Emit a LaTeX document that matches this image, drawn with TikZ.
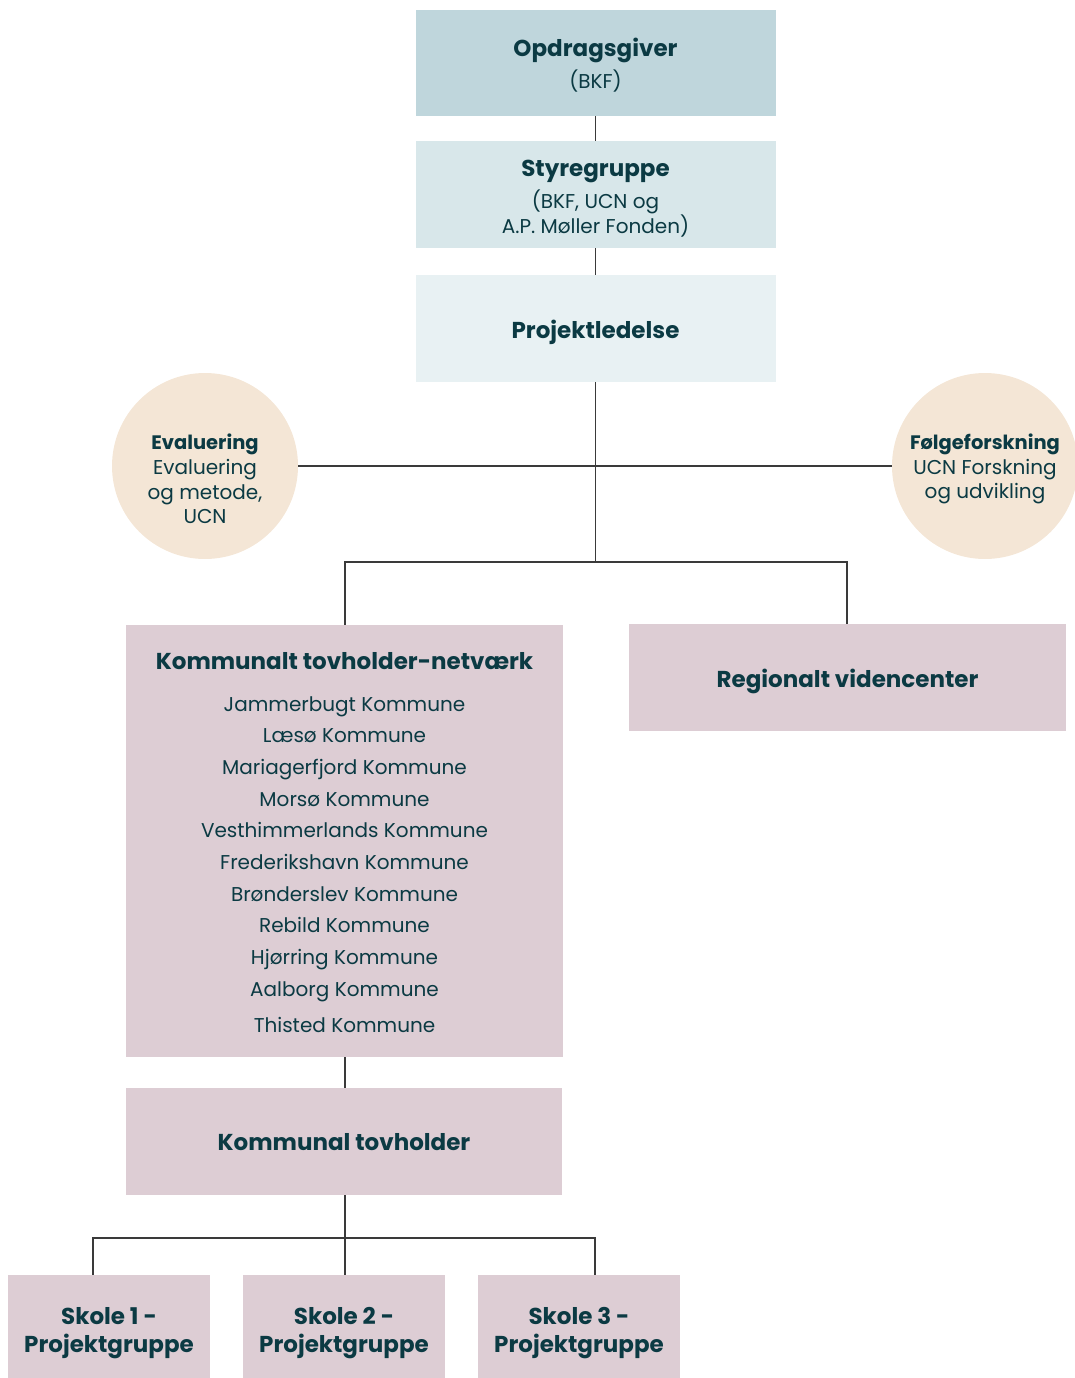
\documentclass[tikz,border=0pt]{standalone}
\usepackage{fontspec}
\setmainfont{Poppins}
\definecolor{txt}{HTML}{0B3A43}
\definecolor{c1}{HTML}{BFD6DC}
\definecolor{c2}{HTML}{D8E7EA}
\definecolor{c3}{HTML}{E8F1F3}
\definecolor{cc}{HTML}{F4E6D6}
\definecolor{cp}{HTML}{DDCDD4}
\definecolor{ln}{HTML}{3A3A3A}
\newcommand{\hdfont}{\fontsize{23}{28}\selectfont\bfseries}
\begin{document}
\begin{tikzpicture}[x=1pt,y=-1pt,
  box/.style={rectangle,inner sep=0pt},
  tx/.style={inner sep=0pt,align=center,text=txt,font=\fontsize{20}{25}\selectfont},
  circ/.style={circle,fill=cc,minimum size=186pt,inner sep=0pt},
  ctext/.style={inner sep=0pt,align=center,text=txt,font=\fontsize{20}{24.7}\selectfont},
  lst/.style={inner sep=0pt,anchor=base,text=txt,font=\fontsize{20}{25}\selectfont},
  conn/.style={draw=ln,line width=1.1pt}]
\useasboundingbox (0,0) rectangle (1075,1378);
% boxes
\node[box,fill=c1,minimum width=360pt,minimum height=106pt] (opd) at (595.5,63) {};
\node[tx,font=\fontsize{20}{32}\selectfont,yshift=-2pt] (opdt) at (opd) {{\hdfont Opdragsgiver}\\(BKF)};
\node[box,fill=c2,minimum width=360pt,minimum height=107pt] (sty) at (595.5,194.5) {};
\node[tx,yshift=-4.5pt] (styt) at (sty) {{\hdfont Styregruppe}\\[6pt](BKF, UCN og\\A.P. Møller Fonden)};
\node[box,fill=c3,minimum width=360pt,minimum height=107pt] (proj) at (595.5,328.5) {};
\node[tx,font=\hdfont,yshift=-4pt] (projt) at (proj) {Projektledelse};
% circles
\node[circ] (eval) at (205,466) {};
\node[ctext] (evaltxt) at (205,479) {{\fontsize{19.5}{24.7}\selectfont\bfseries Evaluering}\\Evaluering\\og metode,\\UCN};
\node[circ] (folg) at (985,466) {};
\node[ctext,anchor=north] (folgtxt) at (985,433.5) {{\fontsize{19.5}{24.7}\selectfont\bfseries Følgeforskning}\\UCN Forskning\\og udvikling};
% kommunalt
\node[box,fill=cp,minimum width=437pt,minimum height=432pt] (kom) at (344.5,841) {};
\node[lst,font=\hdfont] (komhd) at (344.5,669) {Kommunalt tovholder-netværk};
\foreach \t [count=\i from 0] in {Jammerbugt Kommune,Læsø Kommune,Mariagerfjord Kommune,Morsø Kommune,Vesthimmerlands Kommune,Frederikshavn Kommune,Brønderslev Kommune,Rebild Kommune,Hjørring Kommune,Aalborg Kommune}
  \node[lst] (k\i) at (344.5,{711+31.7*\i}) {\t};
\node[lst] (k10) at (344.5,1032) {Thisted Kommune};
% regional
\node[box,fill=cp,minimum width=437pt,minimum height=107pt] (reg) at (847.5,677.5) {};
\node[tx,font=\hdfont,yshift=-4pt] (regt) at (reg) {Regionalt videncenter};
% tovholder
\node[box,fill=cp,minimum width=436pt,minimum height=107pt] (tov) at (344,1141.5) {};
\node[tx,font=\hdfont,yshift=-1pt] (tovt) at (tov) {Kommunal tovholder};
% skoler
\foreach \n/\x/\k in {s1/109/1,s2/344/2,s3/579/3}{
  \node[box,fill=cp,minimum width=202pt,minimum height=103pt] (\n) at (\x,1326.5) {};
  \node[tx,font=\fontsize{23}{28}\selectfont\bfseries,yshift=-7pt] (\n t) at (\n) {Skole \k\ -\\Projektgruppe};
}
% connectors
\coordinate (split) at (595.5,562);
\coordinate (sbus) at (345,1238);
\draw[conn] (opd.south) -- (sty.north);
\draw[conn] (sty.south) -- (proj.north);
\draw[conn] (proj.south) -- (split);
\draw[conn] (eval.east) -- (folg.west);
\draw[conn] (kom.north -| 345,0) |- (split) -| (reg.north -| 847,0);
\draw[conn] (kom.south -| 345,0) -- (tov.north -| 345,0);
\draw[conn] (tov.south -| 345,0) -- (sbus);
\draw[conn] (s1.north -| 93,0) |- (sbus) -| (s3.north -| 595,0);
\draw[conn] (sbus) -- (s2.north -| 345,0);
\end{tikzpicture}
\end{document}
